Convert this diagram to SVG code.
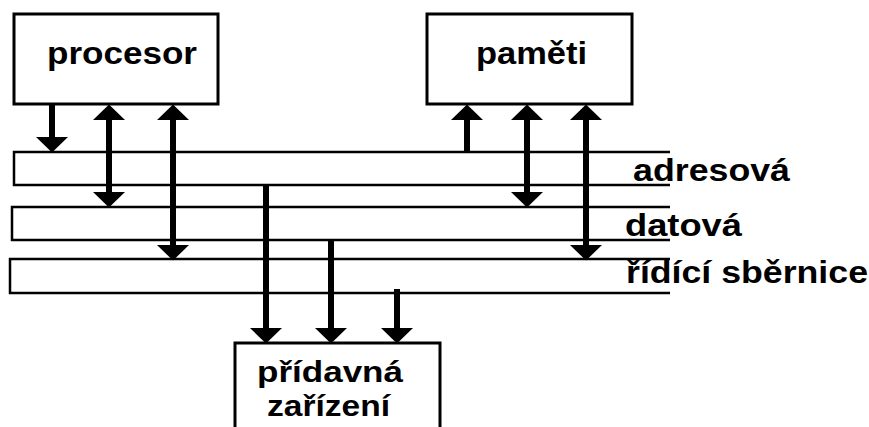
<svg xmlns="http://www.w3.org/2000/svg" width="869" height="427" viewBox="0 0 869 427">
<style>
.box{fill:#fff;stroke:#000;stroke-width:3}
.bus{fill:none;stroke:#000;stroke-width:2.5}
.arr{stroke:#000;stroke-width:6;fill:none}
.t{font-family:"Liberation Sans",Arial,sans-serif;font-weight:bold;font-size:31px;fill:#000}
.s{font-size:29px}
</style>
<defs>
<marker id="ah" markerUnits="userSpaceOnUse" markerWidth="16" markerHeight="32" viewBox="0 0 16 32" refX="0" refY="16" orient="auto-start-reverse">
<path d="M0,0 L15.5,16 L0,32 z" fill="#000"/>
</marker>
</defs>
<rect width="869" height="427" fill="#fff"/>
<g id="bus-adresova">
<path class="bus" d="M670,152 H14 V185 H670"/>
<text class="t" x="633" y="181" textLength="157" lengthAdjust="spacingAndGlyphs">adresová</text>
</g>
<g id="bus-datova">
<path class="bus" d="M670,207 H12 V240 H670"/>
<text class="t" x="625" y="236" textLength="117" lengthAdjust="spacingAndGlyphs">datová</text>
</g>
<g id="bus-ridici">
<path class="bus" d="M670,259 H10 V293 H670"/>
<text class="t" x="626" y="283" textLength="242" lengthAdjust="spacingAndGlyphs">řídící sběrnice</text>
</g>
<g id="procesor">
<rect class="box" x="14" y="14" width="204" height="90"/>
<text class="t" x="47" y="64" textLength="150" lengthAdjust="spacingAndGlyphs">procesor</text>
</g>
<g id="pameti">
<rect class="box" x="427" y="14" width="205" height="90"/>
<text class="t" x="476" y="64" textLength="111" lengthAdjust="spacingAndGlyphs">paměti</text>
</g>
<g id="pridavna-zarizeni">
<rect class="box" x="235" y="343" width="205" height="100"/>
<text class="t s" x="257" y="382" textLength="146" lengthAdjust="spacingAndGlyphs">přídavná</text>
<text class="t s" x="267" y="416" textLength="123" lengthAdjust="spacingAndGlyphs">zařízení</text>
</g>
<g id="connectors">
<path class="arr" d="M52,104 V137" marker-end="url(#ah)"/>
<path class="arr" d="M109,120 V192" marker-start="url(#ah)" marker-end="url(#ah)"/>
<path class="arr" d="M173,120 V245" marker-start="url(#ah)" marker-end="url(#ah)"/>
<path class="arr" d="M467,152 V120" marker-end="url(#ah)"/>
<path class="arr" d="M527,120 V192" marker-start="url(#ah)" marker-end="url(#ah)"/>
<path class="arr" d="M586,120 V245" marker-start="url(#ah)" marker-end="url(#ah)"/>
<path class="arr" d="M266,185 V328" marker-end="url(#ah)"/>
<path class="arr" d="M331,240 V328" marker-end="url(#ah)"/>
<path class="arr" d="M397,289 V328" marker-end="url(#ah)"/>
</g>
</svg>
